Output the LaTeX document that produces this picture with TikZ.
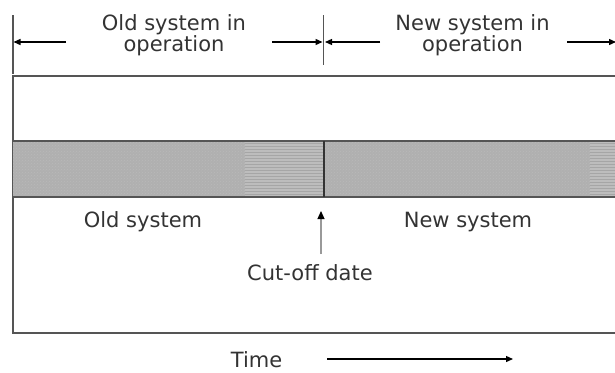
\documentclass[tikz,border=0pt]{standalone}
\usepackage{fontspec}
\setmainfont{DejaVu Sans}
\usetikzlibrary{arrows.meta,patterns}
\definecolor{txt}{HTML}{333333}
\definecolor{frame}{HTML}{555555}
\definecolor{bandfill}{HTML}{B0B0B0}
\definecolor{bandfillb}{HTML}{BDBDBD}
\begin{document}
\begin{tikzpicture}[x=1pt,y=-1pt,
  lbl/.style={inner sep=0pt,text=txt,font=\fontsize{21}{20}\selectfont,align=center},
  dimarrow/.style={line width=1.3pt,-{Triangle[length=7pt,width=6pt]}},
  tick/.style={line width=1.6pt,draw=frame},
  bandbox/.style={fill=bandfill,draw=none},
  bandline/.style={line width=1.6pt,draw=frame}]
\useasboundingbox (0,0) rectangle (615,372);
% frame
\draw[line width=2pt,draw=frame] (616,76) -- (13,76) -- (13,333) -- (616,333);
% band
\fill[bandbox] (13,141) rectangle (616,197);
\fill[pattern=crosshatch dots,pattern color=gray!55] (13,141) rectangle (245,197);
\fill[pattern=crosshatch dots,pattern color=gray!55] (325,141) rectangle (590,197);
\fill[bandfillb] (245,141) rectangle (324,197);
\fill[bandfillb] (590,141) rectangle (616,197);
\fill[pattern=horizontal lines,pattern color=gray!70] (245,141) rectangle (324,197);
\fill[pattern=horizontal lines,pattern color=gray!70] (590,141) rectangle (616,197);
\draw[bandline] (13,141) -- (616,141);
\draw[bandline] (13,197) -- (616,197);
\coordinate (cuttop) at (324,141);
\coordinate (cutbot) at (324,197);
\draw[line width=1.6pt,draw=txt] (cuttop) -- (cutbot);
% ticks
\coordinate (t1a) at (13,15); \coordinate (t1b) at (13,74);
\coordinate (t2a) at (323.5,15); \coordinate (t2b) at (323.5,65);
\draw[tick] (t1a) -- (t1b);
\draw[tick] (t2a) -- (t2b);
% headings
\node[lbl] (oldop) at (174,35.5) {Old system in\\operation};
\node[lbl] (newop) at (472.5,35.5) {New system in\\operation};
% dimension arrows
\coordinate (a1s) at (66,42); \coordinate (a1e) at (13.5,42);
\coordinate (a2s) at (272,42); \coordinate (a2e) at (322.5,42);
\coordinate (a3s) at (380,42); \coordinate (a3e) at (325,42);
\coordinate (a4s) at (567,42); \coordinate (a4e) at (616,42);
\draw[dimarrow] (a1s) -- (a1e);
\draw[dimarrow] (a2s) -- (a2e);
\draw[dimarrow] (a3s) -- (a3e);
\draw[dimarrow] (a4s) -- (a4e);
% labels
\node[lbl,anchor=base] (oldsys) at (143,227) {Old system};
\node[lbl,anchor=base] (newsys) at (468,227) {New system};
\node[lbl,anchor=base] (cutoff) at (310,280) {Cut-off date};
\coordinate (cutarrowtail) at (321,254);
\coordinate (cutarrowtip) at (321,211);
\draw[line width=1.2pt,draw=gray!80,-{Triangle[length=8pt,width=7pt,color=black]}] (cutarrowtail) -- (cutarrowtip);
% time
\node[lbl,anchor=base] (time) at (256.5,367) {Time};
\coordinate (ts) at (327,359); \coordinate (te) at (513,359);
\draw[dimarrow] (ts) -- (te);
\end{tikzpicture}
\end{document}
